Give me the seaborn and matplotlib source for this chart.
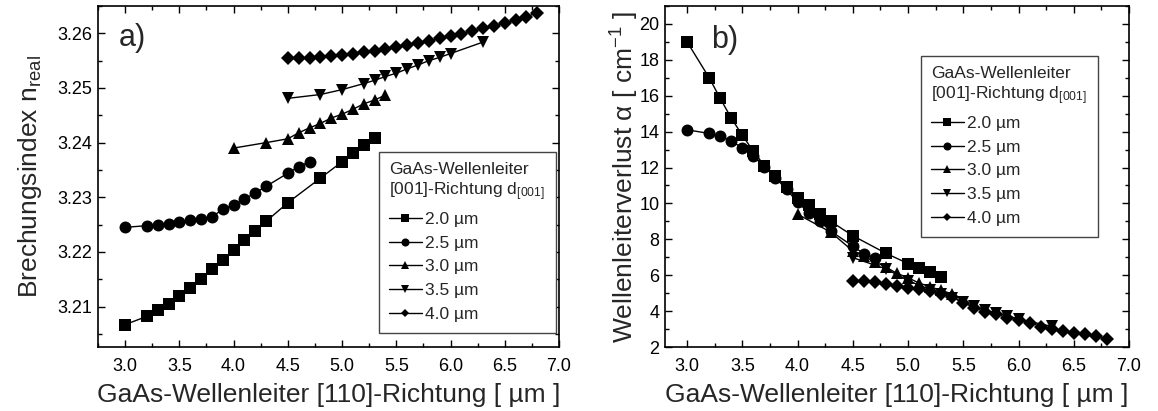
import numpy as np
import pandas as pd
import matplotlib
matplotlib.use("Agg")
import matplotlib.pyplot as plt
from matplotlib.lines import Line2D
from matplotlib.ticker import MultipleLocator, FormatStrFormatter
import seaborn as sns

sns.set_style("white")
plt.rcParams["font.family"] = ["Liberation Sans", "DejaVu Sans"]
plt.rcParams["mathtext.fontset"] = "custom"
plt.rcParams["mathtext.rm"] = "Liberation Sans"
plt.rcParams["mathtext.it"] = "Liberation Sans:italic"

# widths along [110] for each [001] thickness (µm)
x_20 = [3.0, 3.2, 3.3, 3.4, 3.5, 3.6, 3.7, 3.8, 3.9, 4.0, 4.1, 4.2, 4.3, 4.5, 4.8, 5.0, 5.1, 5.2, 5.3]
x_25 = [3.0, 3.2, 3.3, 3.4, 3.5, 3.6, 3.7, 3.8, 3.9, 4.0, 4.1, 4.2, 4.3, 4.5, 4.6, 4.7]
x_30 = [4.0, 4.3, 4.5, 4.6, 4.7, 4.8, 4.9, 5.0, 5.1, 5.2, 5.3, 5.4]
x_35 = [4.5, 4.8, 5.0, 5.2, 5.3, 5.4, 5.5, 5.6, 5.7, 5.8, 5.9, 6.0, 6.3]
x_40 = [4.5, 4.6, 4.7, 4.8, 4.9, 5.0, 5.1, 5.2, 5.3, 5.4, 5.5, 5.6,
        5.7, 5.8, 5.9, 6.0, 6.1, 6.2, 6.3, 6.4, 6.5, 6.6, 6.7, 6.8]

# effective refractive index n_real
n_20 = [3.2067, 3.2082, 3.2093, 3.2105, 3.2119, 3.2134, 3.2151, 3.2169, 3.2186, 3.2204,
        3.2221, 3.2238, 3.2256, 3.2290, 3.2335, 3.2365, 3.2381, 3.2395, 3.2408]
n_25 = [3.2245, 3.2248, 3.2250, 3.2251, 3.2254, 3.2259, 3.2260, 3.2264, 3.2278, 3.2286,
        3.2297, 3.2308, 3.2320, 3.2344, 3.2356, 3.2365]
n_30 = [3.2390, 3.2400, 3.2407, 3.2418, 3.2427, 3.2435, 3.2445, 3.2452, 3.2461, 3.2471,
        3.2478, 3.2487]
n_35 = [3.2481, 3.2488, 3.2497, 3.2508, 3.2514, 3.2521, 3.2527, 3.2535, 3.2542, 3.2550,
        3.2556, 3.2563, 3.2584]
n_40 = [3.2554, 3.2554, 3.2555, 3.2557, 3.2558, 3.2560, 3.2563, 3.2565, 3.2568, 3.2571,
        3.2575, 3.2579, 3.2582, 3.2586, 3.2591, 3.2596, 3.2599, 3.2604, 3.2609, 3.2614,
        3.2619, 3.2624, 3.2630, 3.2638]

# waveguide loss alpha (1/cm)
a_20 = [19.0, 17.0, 15.85, 14.75, 13.8, 12.9, 12.1, 11.5, 10.9, 10.3, 9.9, 9.4, 9.0,
        8.2, 7.22, 6.65, 6.4, 6.16, 5.9]
a_25 = [14.1, 13.9, 13.75, 13.47, 13.1, 12.63, 12.04, 11.43, 10.78, 10.07, 9.48, 9.0,
        8.46, 7.62, 7.2, 6.98]
a_30 = [9.4, 8.4, 7.35, 7.05, 6.75, 6.45, 6.1, 5.86, 5.56, 5.36, 5.15, 4.96]
a_35 = [6.98, 6.35, 5.7, 5.2, 4.95, 4.75, 4.5, 4.3, 4.05, 3.9, 3.75, 3.55, 3.15]
a_40 = [5.67, 5.67, 5.63, 5.49, 5.4, 5.31, 5.25, 5.12, 4.93, 4.78, 4.47, 4.19, 3.95,
        3.82, 3.64, 3.5, 3.36, 3.14, 2.99, 2.89, 2.8, 2.71, 2.61, 2.47]

labels = ["2.0 µm", "2.5 µm", "3.0 µm", "3.5 µm", "4.0 µm"]
marker_map = dict(zip(labels, ["s", "o", "^", "v", "D"]))
xs = [x_20, x_25, x_30, x_35, x_40]


def long_frame(ys, col):
    parts = [pd.DataFrame({"w": x, col: y, "d": lab}) for x, y, lab in zip(xs, ys, labels)]
    return pd.concat(parts, ignore_index=True)


df_n = long_frame([n_20, n_25, n_30, n_35, n_40], "n")
df_a = long_frame([a_20, a_25, a_30, a_35, a_40], "a")

fig = plt.figure(figsize=(11.58, 4.11), dpi=100)
ax1 = fig.add_axes([98 / 1158, 64 / 411, 461 / 1158, 341 / 411])
ax2 = fig.add_axes([665 / 1158, 64 / 411, 464 / 1158, 341 / 411])

for ax, df, col in [(ax1, df_n, "n"), (ax2, df_a, "a")]:
    sns.lineplot(data=df, x="w", y=col, style="d", markers=marker_map, dashes=False,
                 color="black", linewidth=1.0, markersize=8.6, markeredgewidth=0,
                 legend=False, sort=False, ax=ax)
    # diamonds are drawn rotated, so shrink them to the same visual size
    for ln in ax.lines:
        if ln.get_marker() == "D":
            ln.set_markersize(7.2)

xlabel = "GaAs-Wellenleiter [110]-Richtung [ µm ]"
ax1.set_xlim(2.75, 7.0)
ax1.set_ylim(3.2026, 3.265)
ax1.yaxis.set_major_locator(MultipleLocator(0.01))
ax1.yaxis.set_minor_locator(MultipleLocator(0.005))
ax1.yaxis.set_major_formatter(FormatStrFormatter("%.2f"))
ax1.set_ylabel(r"Brechungsindex n$_{\mathrm{real}}$", fontsize=19, labelpad=10)

ax2.set_xlim(2.8, 7.0)
ax2.set_ylim(2, 21)
ax2.yaxis.set_major_locator(MultipleLocator(2))
ax2.yaxis.set_minor_locator(MultipleLocator(1))
ax2.set_ylabel(r"Wellenleiterverlust α [ cm$^{\mathrm{-1}}$ ]", fontsize=19, labelpad=-1)

for ax in (ax1, ax2):
    ax.set_xlabel(xlabel, fontsize=19, labelpad=6)
    ax.xaxis.set_major_locator(MultipleLocator(0.5))
    ax.xaxis.set_minor_locator(MultipleLocator(0.25))
    ax.xaxis.set_major_formatter(FormatStrFormatter("%.1f"))
    ax.tick_params(which="both", direction="in", top=True, right=True,
                   bottom=True, left=True, colors="black", labelsize=13)
    ax.tick_params(which="major", length=5, width=1)
    ax.tick_params(which="minor", length=3, width=1)
    ax.tick_params(axis="x", pad=8)
    ax.tick_params(axis="y", pad=4)
    for sp in ax.spines.values():
        sp.set_color("black")
        sp.set_linewidth(1.2)

ax1.text(0.045, 0.95, "a)", transform=ax1.transAxes, fontsize=22, va="top", ha="left")
ax2.text(0.10, 0.945, "b)", transform=ax2.transAxes, fontsize=22, va="top", ha="left")

handles = [Line2D([], [], color="black", lw=1.0, marker=marker_map[l],
                  markersize=4.4 if marker_map[l] == "D" else 5.8,
                  markeredgewidth=0) for l in labels]
title = "GaAs-Wellenleiter\n[001]-Richtung d$_{\\mathrm{[001]}}$"
for ax, anchor in [(ax1, (379 / 1158, 1 - 152 / 411)), (ax2, (921 / 1158, 1 - 56 / 411))]:
    leg = ax.legend(handles, labels, title=title, loc="upper left",
                    bbox_to_anchor=anchor, bbox_transform=fig.transFigure,
                    borderaxespad=0, fontsize=12.5, title_fontsize=12.5,
                    alignment="left", handlelength=1.85, handletextpad=0.2,
                    labelspacing=0.5, borderpad=0.6, frameon=True, fancybox=False)
    fr = leg.get_frame()
    fr.set_edgecolor("#444444")
    fr.set_linewidth(1.0)
    fr.set_facecolor("white")
    fr.set_alpha(1)

fig.savefig("out.png", dpi=100)
